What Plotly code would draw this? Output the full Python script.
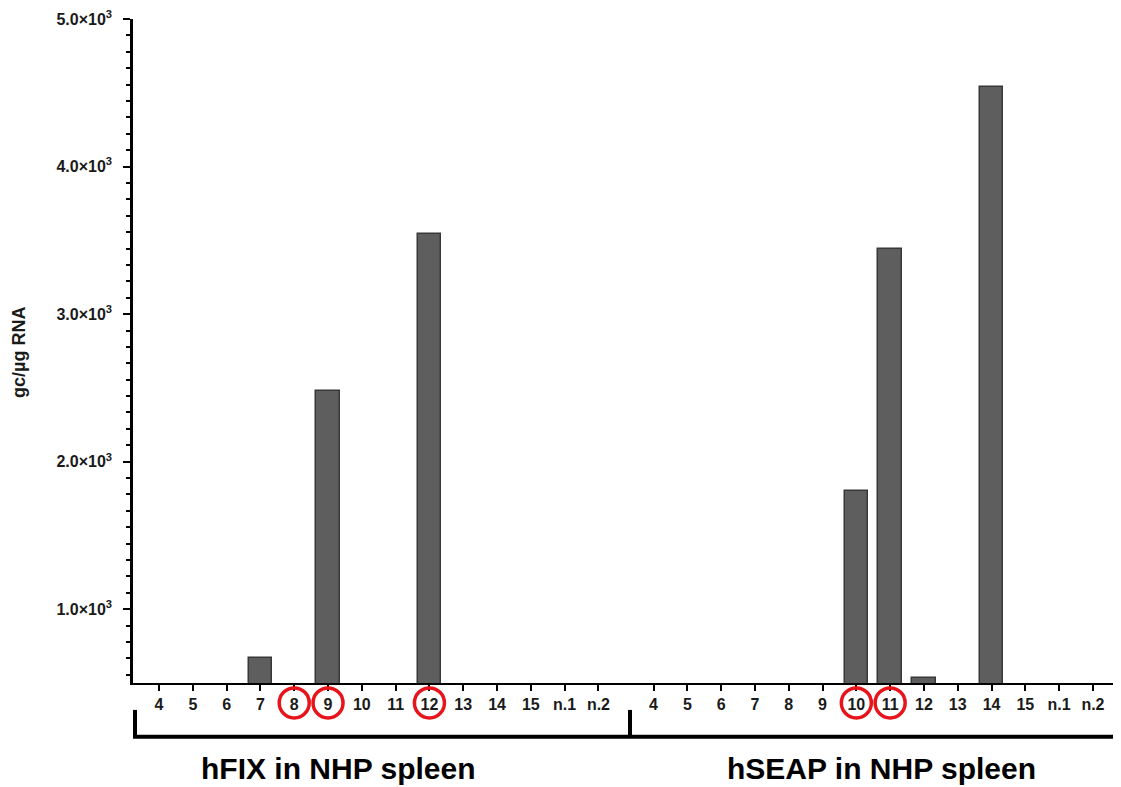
import plotly.graph_objects as go

# ---- data ----
labels = ["4", "5", "6", "7", "8", "9", "10", "11", "12", "13", "14", "15", "n.1", "n.2"]
hfix_values = [0, 0, 0, 670, 0, 2480, 0, 0, 3540, 0, 0, 0, 0, 0]
hseap_values = [0, 0, 0, 0, 0, 0, 1800, 3440, 535, 0, 4540, 0, 0, 0]
hfix_circled = ["8", "9", "12"]
hseap_circled = ["10", "11"]
groups = ["hFIX in NHP spleen", "hSEAP in NHP spleen"]
y_ticks = [1000, 2000, 3000, 4000, 5000]
y_ticktext = ["1.0×10<sup>3</sup>", "2.0×10<sup>3</sup>", "3.0×10<sup>3</sup>",
              "4.0×10<sup>3</sup>", "5.0×10<sup>3</sup>"]

# ---- layout constants (page body has an 8px margin) ----
OFF = 8
W, H = 1121 - OFF, 787 - OFF
ML, MR, MT, MB = 133 - OFF, 0, 17 - OFF, 104
GROUP_GAP = 0.63
FONT = "Arial, Liberation Sans, sans-serif"
BAR_FILL = "#5e5e5e"
BAR_LINE = "#383838"

n = len(labels)
x1 = [i for i in range(n)]
x2 = [i + n + GROUP_GAP for i in range(n)]
x_range = [-0.77, 2 * n + GROUP_GAP - 1 + 0.83]

fig = go.Figure()
fig.add_trace(go.Bar(x=x1 + x2, y=hfix_values + hseap_values, width=0.7,
                     marker=dict(color=BAR_FILL, line=dict(color=BAR_LINE, width=1.5)),
                     showlegend=False))

plot_w = W - ML - MR
plot_h = H - MT - MB


def px_to_paper_x(px):
    return (px - OFF - ML) / plot_w


def px_to_paper_y(py):
    return (H - MB - (py - OFF)) / plot_h


shapes = []
# red circles around highlighted tick labels
circ_y = px_to_paper_y(703)
for xs, circled in ((x1, hfix_circled), (x2, hseap_circled)):
    for lab in circled:
        shapes.append(dict(type="circle", xref="x", yref="paper", xsizemode="pixel", ysizemode="pixel",
                           xanchor=xs[labels.index(lab)], yanchor=circ_y, x0=-15, x1=15, y0=-15, y1=15,
                           line=dict(color="#e8141b", width=3.5)))

# brackets
by = px_to_paper_y(737)
btop = px_to_paper_y(710)
shapes.append(dict(type="line", xref="paper", yref="paper", x0=px_to_paper_x(133), x1=1.0,
                   y0=by, y1=by, line=dict(color="black", width=4)))
shapes.append(dict(type="line", xref="paper", yref="paper", x0=px_to_paper_x(135), x1=px_to_paper_x(135),
                   y0=by, y1=btop, line=dict(color="black", width=4)))
shapes.append(dict(type="line", xref="paper", yref="paper", x0=px_to_paper_x(630), x1=px_to_paper_x(630),
                   y0=by, y1=btop, line=dict(color="black", width=4)))

annotations = [
    dict(text=groups[0], xref="paper", yref="paper", x=px_to_paper_x(338), y=px_to_paper_y(769),
         showarrow=False, font=dict(family=FONT, size=30, color="black", weight="bold"),
         xanchor="center", yanchor="middle"),
    dict(text=groups[1], xref="paper", yref="paper", x=px_to_paper_x(881), y=px_to_paper_y(769),
         showarrow=False, font=dict(family=FONT, size=30, color="black", weight="bold"),
         xanchor="center", yanchor="middle"),
    dict(text="gc/µg RNA", xref="paper", yref="paper", x=px_to_paper_x(19), y=px_to_paper_y(352),
         textangle=-90, showarrow=False,
         font=dict(family=FONT, size=18, color="#1a1a1a", weight="bold"),
         xanchor="center", yanchor="middle"),
]

fig.update_layout(
    width=W, height=H,
    margin=dict(l=ML, r=MR, t=MT, b=MB, pad=0),
    plot_bgcolor="white", paper_bgcolor="white",
    font=dict(family=FONT, color="#1a1a1a"),
    shapes=shapes, annotations=annotations,
    bargap=0,
)
fig.update_xaxes(
    range=x_range, tickmode="array", tickvals=x1 + x2, ticktext=labels + labels,
    showline=True, linecolor="black", linewidth=2, ticks="outside", ticklen=6, tickwidth=2,
    tickcolor="black", showgrid=False, zeroline=False,
    tickfont=dict(family=FONT, size=16, color="#1a1a1a", weight="bold"),
)
fig.update_yaxes(
    range=[500, 5000], tickmode="array", tickvals=y_ticks, ticktext=y_ticktext,
    showline=True, linecolor="black", linewidth=2.5, ticks="outside", ticklen=7, tickwidth=2,
    tickcolor="black", showgrid=False, zeroline=False, ticklabeloverflow="allow",
    ticklabelstandoff=8,
    tickfont=dict(family=FONT, size=16, color="#1a1a1a", weight="bold"),
    minor=dict(ticks="outside", ticklen=4, tickwidth=2, tickcolor="black",
               tickmode="linear", tick0=1000, dtick=1000 / 9, showgrid=False),
)

fig.write_html("out.html")
